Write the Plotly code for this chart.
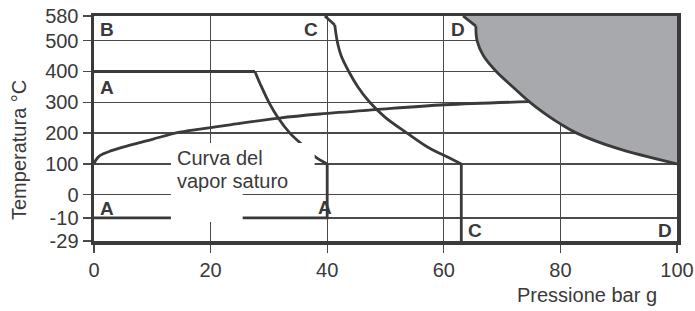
import numpy as np
import plotly.graph_objects as go

# ---- data (pressure bar g, temperature °C) ----
vapor_p = [0, 0.3, 1, 3, 6, 10, 14.7, 20, 23.3, 31.8, 38.7, 48.2, 60.2, 74.8]
vapor_t = [100, 112, 127, 143, 160, 180, 203, 218, 227, 249, 262, 276, 292, 302]

a_top_p = [0, 27.6]
a_top_t = [400, 400]
a_curve_p = [27.6, 28.5, 30.0, 31.6, 33.6, 36.4, 37.9, 40]
a_curve_t = [400, 360, 300, 249, 200, 151, 124, 100]
a_low_p = [40, 40, 0]
a_low_t = [100, -10, -10]

c_tip_p = [39.6, 41.3]
c_tip_t = [580, 551]
c_curve_p = [41.3, 41.7, 42.4, 43.7, 45.3, 47.3, 49.9, 53.7, 57.2, 60.0, 63.0]
c_curve_t = [551, 500, 451, 400, 349, 300, 252, 200, 155, 128, 100]
c_low_p = [63.0, 63.0]
c_low_t = [100, -29]

d_tip_p = [63.3, 65.5]
d_tip_t = [580, 547]
d_curve_p = [65.5, 65.7, 66.8, 69.0, 71.9, 74.8, 78.2, 80.0, 82.8, 89.5, 100]
d_curve_t = [547, 500, 451, 400, 349, 300, 252, 230, 200, 152, 100]

x_ticks = [0, 20, 40, 60, 80, 100]
y_tick_labels = ["-29", "-10", "0", "100", "200", "300", "400", "500", "580"]
y_tick_real = [-29, -10, 0, 100, 200, 300, 400, 500, 580]
# the chart stretches the band below 0 °C
y_tick_pos = [-150, -75, 0, 100, 200, 300, 400, 500, 580]


def ymap(t):
    return list(np.interp(t, y_tick_real, y_tick_pos))


INK = "#3a3a3a"
GRID = "#4a4a4a"
FONT = "Arial, Liberation Sans, sans-serif"

L, R, T, B, W, H = 94, 18, 16, 70, 695, 311
PW, PH = W - L - R, H - T - B


def px(x):
    return (x - L) / PW


def py(y):
    return (H - B - y) / PH


fig = go.Figure()

# grey region beyond curve D
fig.add_trace(go.Scatter(
    x=d_tip_p + d_curve_p[1:] + [100, d_tip_p[0]],
    y=ymap(d_tip_t + d_curve_t[1:] + [580, 580]),
    fill="toself", fillcolor="#a8a9ac", mode="none", hoverinfo="skip"))

line = dict(color=INK, width=2.8)
curve = dict(color=INK, width=2.8, shape="spline", smoothing=1.0)
for xs, ys, st in [(vapor_p, vapor_t, curve),
                   (a_top_p, a_top_t, line), (a_curve_p, a_curve_t, curve),
                   (a_low_p, a_low_t, line),
                   (c_tip_p, c_tip_t, line), (c_curve_p, c_curve_t, curve),
                   (c_low_p, c_low_t, line),
                   (d_tip_p, d_tip_t, line), (d_curve_p, d_curve_t, curve)]:
    fig.add_trace(go.Scatter(x=xs, y=ymap(ys), mode="lines", line=st,
                             hoverinfo="skip"))

# white background behind the label
fig.add_shape(type="rect", xref="x", yref="y", x0=13.2, x1=37.85, y0=32, y1=168,
              fillcolor="white", line_width=0, layer="above")
fig.add_shape(type="rect", xref="x", yref="y", x0=13.2, x1=25.5, y0=-88, y1=168,
              fillcolor="white", line_width=0, layer="above")

ann = []
lab = dict(family=FONT, size=19, color=INK, weight="bold")
for t, xx, yy in [("B", 107, 29.5), ("A", 107, 88), ("A", 107, 208),
                  ("A", 325, 207.5), ("C", 311, 29.5), ("D", 457.5, 29.5),
                  ("C", 474.5, 230), ("D", 665.3, 230)]:
    ann.append(dict(text=t, x=px(xx), y=py(yy), xref="paper", yref="paper",
                    showarrow=False, xanchor="center", yanchor="middle", font=lab))

txt = dict(family=FONT, size=20, color=INK)
ann.append(dict(text="Curva del", x=px(175), y=py(158), xref="paper", yref="paper",
                showarrow=False, xanchor="left", yanchor="middle", font=txt))
ann.append(dict(text="vapor saturo", x=px(175), y=py(181), xref="paper", yref="paper",
                showarrow=False, xanchor="left", yanchor="middle", font=txt))
ann.append(dict(text="Temperatura °C", x=px(19), y=py(150), xref="paper", yref="paper",
                showarrow=False, xanchor="center", yanchor="middle", textangle=-90,
                font=dict(family=FONT, size=20, color=INK)))
ann.append(dict(text="Pressione bar g", x=px(587), y=py(295), xref="paper", yref="paper",
                showarrow=False, xanchor="center", yanchor="middle",
                font=dict(family=FONT, size=20, color=INK)))

axis_common = dict(ticks="outside", ticklen=8, tickcolor=GRID, tickwidth=1.3,
                   showgrid=True, gridcolor=GRID, gridwidth=1.3, showline=True,
                   linecolor=INK, linewidth=3.5, mirror=True, zeroline=False,
                   automargin=False,
                   tickfont=dict(family=FONT, size=20, color=INK))

fig.update_layout(
    template="none",
    width=W, height=H, margin=dict(l=L, r=R, t=T, b=B, autoexpand=False),
    plot_bgcolor="white", paper_bgcolor="white", showlegend=False,
    annotations=ann,
    xaxis=dict(range=[0, 100], tickvals=x_ticks, **axis_common),
    yaxis=dict(range=[-150, 580], tickvals=y_tick_pos, ticktext=y_tick_labels,
               **axis_common),
)

fig.write_html("out.html", config={"displayModeBar": False, "staticPlot": True},
               post_script="document.body.style.margin='0';"
                           "document.body.style.overflow='hidden';")
